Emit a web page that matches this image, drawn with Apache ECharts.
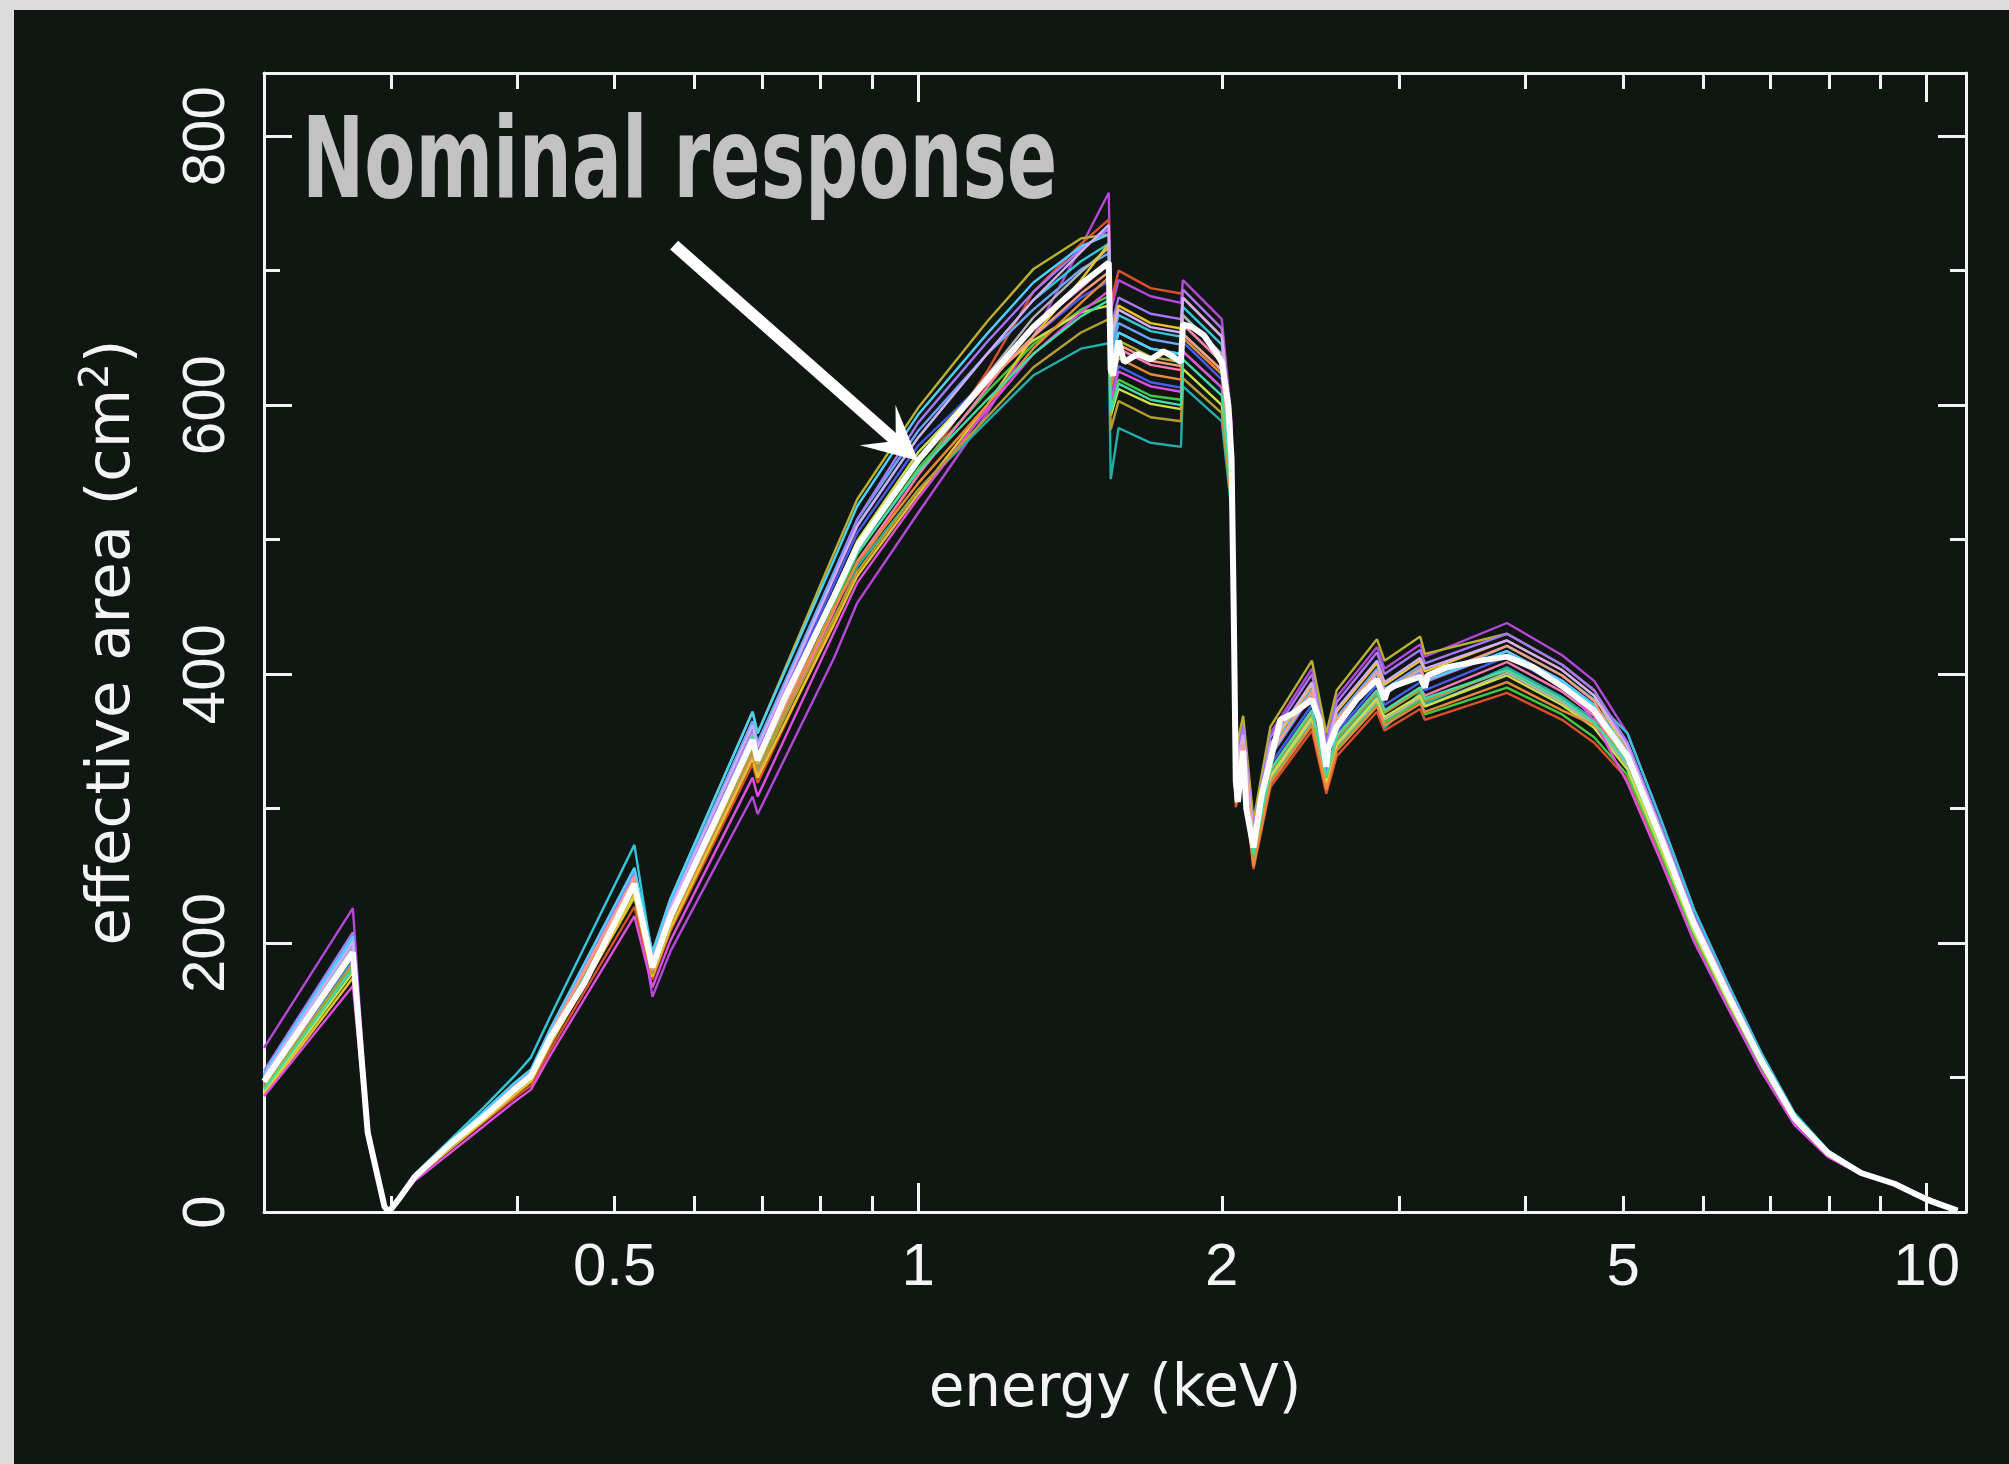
<!DOCTYPE html>
<html>
<head>
<meta charset="utf-8">
<script src="https://cdn.jsdelivr.net/npm/echarts@6/dist/echarts.min.js"></script>
<style>
html,body{margin:0;padding:0;background:#101713;}
#chart{width:2009px;height:1464px;}
</style>
</head>
<body>
<div id="chart"></div>
<script>
// ---- data (energy in keV, effective area in cm^2) ----
const nominalEnergy = [0.2245,0.275,0.2845,0.2956,0.2985,0.305,0.3166,0.344,0.371,0.3976,0.413,0.432,0.4665,0.523,0.545,0.568,0.632,0.685,0.693,0.736,0.825,0.87,1.0,1.17,1.30,1.45,1.545,1.552,1.56,1.58,1.60,1.65,1.70,1.75,1.79,1.822,1.83,1.87,1.92,1.97,2.00,2.03,2.045,2.055,2.065,2.075,2.09,2.10,2.115,2.15,2.19,2.235,2.286,2.356,2.457,2.50,2.539,2.55,2.60,2.72,2.85,2.90,2.92,2.96,3.146,3.18,3.20,3.34,3.61,3.835,4.07,4.35,4.68,5.05,5.45,5.88,6.35,6.85,7.39,7.98,8.61,9.29,10.02,10.73];
const nominalArea = [97,193,59,4,0,9,26,51,71,91,101,130,170,244,182,220,294,351,336,381,458,495,559,619,658,690,706,626,622,648,632,638,634,640,636,632,660,658,652,640,632,600,560,450,320,305,330,343,300,271,310,336,366,371,381,366,331,345,361,381,396,381,388,391,398,390,399,405,410,413,405,391,373,339,278,214,162,113,70,44,29,21,9,1];

const ensembleEnergy = [0.2245,0.275,0.2845,0.2956,0.2985,0.305,0.3166,0.371,0.3976,0.413,0.432,0.523,0.545,0.568,0.685,0.693,0.825,0.87,1.0,1.17,1.30,1.45,1.545,1.552,1.58,1.70,1.822,1.83,2.00,2.045,2.065,2.10,2.15,2.235,2.457,2.539,2.60,2.85,2.90,3.146,3.18,3.835,4.35,4.68,5.05,5.45,5.88,6.35,6.85,7.39,7.98,8.61,9.29,10.73];

const ensemble01 = [122,226,65,4,0,9,26,71,91,101,130,244,160,194,309,296,412,453,520,594,651,718,758,670,693,681,676,693,664,588,339,364,287,356,404,351,383,420,404,422,413,438,414,395,356,292,225,170,118,73,45,29,21,1];
const ensemble02 = [102,203,61,4,0,9,25,67,85,94,121,227,173,209,333,319,440,480,548,625,684,720,738,676,700,687,683,686,657,582,301,322,255,316,358,311,339,372,358,374,366,386,366,349,322,264,203,154,107,67,43,29,21,1];
const ensemble03 = [97,193,59,4,0,9,27,72,93,103,133,249,193,233,372,356,490,530,598,662,701,724,727,626,648,636,632,660,632,560,344,369,291,361,410,356,388,426,410,428,415,430,407,388,346,284,218,165,115,71,44,29,21,1];
const ensemble04 = [102,203,62,4,0,10,28,78,101,115,146,273,189,229,365,349,474,511,576,638,678,707,720,645,667,655,651,673,645,571,323,346,274,339,385,334,365,400,385,402,394,421,399,381,356,292,225,170,119,74,46,30,21,1];
const ensemble05 = [94,187,58,4,0,9,26,72,92,102,131,246,180,218,347,333,449,480,537,588,622,642,646,545,583,572,569,614,588,521,310,333,263,326,370,321,350,384,360,386,378,405,383,366,346,284,218,165,115,71,44,29,21,1];
const ensemble06 = [100,199,61,4,0,9,27,73,94,104,134,251,189,229,365,349,476,515,581,638,671,701,713,639,661,649,645,667,638,566,326,350,276,343,389,338,368,404,389,406,395,417,395,377,349,286,220,167,116,72,45,29,21,1];
const ensemble07 = [95,189,58,4,0,9,26,70,90,100,129,242,186,224,358,343,467,505,570,619,651,680,692,607,629,617,613,647,619,549,317,340,268,333,377,328,357,392,377,394,388,413,391,373,336,275,212,160,112,69,44,29,21,1];
const ensemble08 = [92,183,57,4,0,9,25,70,89,99,127,239,178,216,344,329,451,489,553,610,645,671,681,598,619,607,604,640,613,543,306,328,259,321,364,316,345,378,364,380,370,390,370,353,325,267,205,156,108,67,43,29,21,1];
const ensemble09 = [97,193,59,4,0,9,25,69,88,98,126,237,177,213,340,326,447,484,548,613,658,687,706,620,642,630,626,660,632,560,314,336,266,329,373,324,354,388,373,390,384,409,387,369,332,272,210,159,111,69,43,29,21,1];
const ensemble10 = [105,208,63,4,0,9,27,74,95,105,135,254,186,224,358,343,472,515,587,647,684,716,731,657,680,668,664,686,657,582,336,360,285,353,400,348,379,416,400,418,408,430,407,388,349,286,220,167,116,72,45,29,21,1];
const ensemble11 = [99,197,60,4,0,9,26,70,90,100,129,242,184,222,355,339,458,493,559,622,665,699,717,632,654,642,638,667,638,566,307,329,260,323,366,318,347,380,366,382,376,401,379,362,332,272,210,159,111,69,43,29,21,1];
const ensemble12 = [89,178,56,4,0,9,25,69,88,98,126,237,183,221,353,338,460,499,565,619,648,669,674,592,612,601,597,627,600,532,309,331,262,324,368,319,348,382,368,384,376,399,377,360,329,270,208,157,110,68,43,29,21,1];
const ensemble13 = [87,174,55,4,0,9,25,68,87,97,125,234,175,211,337,323,437,473,534,600,651,693,720,651,674,661,657,680,651,577,330,353,279,346,392,341,372,408,392,410,402,425,403,384,342,281,216,164,114,71,44,29,21,1];
const ensemble14 = [86,168,54,4,0,8,23,64,82,91,117,220,167,202,323,309,431,468,531,597,638,669,685,604,625,614,610,640,613,543,323,346,274,339,385,334,365,400,385,402,394,417,395,365,319,261,201,152,105,65,41,28,21,1];
const ensemble15 = [98,195,59,4,0,9,26,72,92,102,131,246,180,218,347,333,449,483,542,600,642,676,695,613,635,623,619,650,623,552,304,326,257,319,362,314,343,376,362,378,372,394,373,362,346,284,218,165,115,71,44,29,21,1];
const ensemble16 = [103,205,62,4,0,9,27,75,96,106,137,256,193,233,372,356,485,525,593,653,691,718,727,632,654,642,638,653,626,554,324,347,274,340,386,335,365,401,386,403,395,417,395,377,342,281,216,164,114,71,44,29,21,1];
const ensemble17 = [93,185,57,4,0,9,25,70,89,99,127,239,177,215,342,328,442,476,537,591,628,654,664,582,603,591,588,620,594,526,312,334,264,328,371,323,352,386,371,388,380,403,381,364,336,275,212,160,112,69,44,29,21,1];
const ensemble18 = [101,201,61,4,0,9,27,72,93,103,133,249,187,227,362,346,472,510,576,638,678,714,734,648,671,658,654,680,651,577,331,355,280,348,394,343,374,410,394,412,404,425,403,384,346,284,218,165,115,71,44,29,21,1];
const ensemble19 = [96,191,58,4,0,9,27,72,93,103,133,249,180,218,347,333,456,494,559,616,651,683,699,623,645,633,629,653,626,554,325,348,275,341,387,336,366,402,387,404,397,421,399,380,334,274,211,160,111,69,43,29,21,1];
const ensemble20 = [91,181,57,4,0,9,26,70,90,100,129,242,183,222,354,339,456,490,551,604,638,666,678,595,616,604,600,634,607,538,314,336,266,329,373,324,354,388,373,390,382,403,381,364,334,274,211,160,111,69,43,29,21,1];

const ensembleColors = ['#b448d8','#d8502c','#b8b030','#34c6d8','#22b0a6','#6aa8ff','#4a5cf0','#44c844','#ff7ab8','#a478ff','#b4b4b4','#cce048','#e6c42a','#e050e0','#e88a3a','#4cd2ff','#b49e34','#d6aaff','#ff9a84','#44dca4'];

const xRange = [0.2245, 10.94];
const xTickLabels = [0.5, 1, 2, 5, 10];
const xMajorTicks = [1, 10];
const xMinorTicks = [0.3, 0.4, 0.5, 0.6, 0.7, 0.8, 0.9, 2, 3, 4, 5, 6, 7, 8, 9];
const yRange = [0, 847];
const yTickLabels = [0, 200, 400, 600, 800];
const yMinorTicks = [100, 300, 500, 700];

const arrowTail = [0.5727, 719];
const arrowHead = [0.9545, 572];

// ---- build ----
const lg = v => Math.log10(v);
const ensembleValues = [ensemble01,ensemble02,ensemble03,ensemble04,ensemble05,ensemble06,ensemble07,ensemble08,ensemble09,ensemble10,ensemble11,ensemble12,ensemble13,ensemble14,ensemble15,ensemble16,ensemble17,ensemble18,ensemble19,ensemble20];

const WHITE = '#f4f4f4';
const xMin = lg(xRange[0]), xMax = lg(xRange[1]);

function xAxisDef(pos, ticks, len, withLine, withLabels) {
  return {
    type: 'value', position: pos, min: xMin, max: xMax,
    axisLine: { show: withLine, onZero: false, lineStyle: { color: WHITE, width: 3 } },
    axisTick: { show: true, inside: true, length: len, customValues: ticks.map(lg), lineStyle: { color: WHITE, width: 3 } },
    axisLabel: withLabels ? {
      show: true, customValues: xTickLabels.map(lg), margin: 26,
      color: WHITE, fontFamily: 'Liberation Sans', fontSize: 60,
      formatter: v => String(parseFloat(Math.pow(10, v).toPrecision(3)))
    } : { show: false },
    splitLine: { show: false }
  };
}
function yAxisDef(pos, ticks, len, withLine, withLabels) {
  return {
    type: 'value', position: pos, min: yRange[0], max: yRange[1],
    axisLine: { show: withLine, onZero: false, lineStyle: { color: WHITE, width: 3 } },
    axisTick: { show: true, inside: true, length: len, customValues: ticks, lineStyle: { color: WHITE, width: 3 } },
    axisLabel: withLabels ? {
      show: true, customValues: yTickLabels, rotate: 90, margin: 27,
      color: WHITE, fontFamily: 'Liberation Sans', fontSize: 60
    } : { show: false },
    splitLine: { show: false }
  };
}

const xAxes = [
  xAxisDef('bottom', xMajorTicks, 29, true, true),
  xAxisDef('bottom', xMinorTicks, 16, false, false),
  xAxisDef('top', xMajorTicks, 29, true, false),
  xAxisDef('top', xMinorTicks, 16, false, false)
];
Object.assign(xAxes[0], {
  name: 'energy (keV)', nameLocation: 'middle', nameGap: 150,
  nameTextStyle: { color: WHITE, fontFamily: 'DejaVu Sans', fontSize: 58 }
});
const yAxes = [
  yAxisDef('left', yTickLabels, 28, true, true),
  yAxisDef('left', yMinorTicks, 16, false, false),
  yAxisDef('right', yTickLabels, 28, true, false),
  yAxisDef('right', yMinorTicks, 16, false, false)
];
Object.assign(yAxes[0], {
  name: 'effective area (cm{sup|2})', nameLocation: 'middle', nameGap: 116, nameRotate: 90,
  nameTextStyle: {
    color: WHITE, fontFamily: 'DejaVu Sans', fontSize: 61,
    rich: { sup: { color: WHITE, fontFamily: 'DejaVu Sans', fontSize: 40, padding: [0, 0, 30, 0] } }
  }
});

const series = ensembleValues.map((vals, i) => ({
  type: 'line', xAxisIndex: 0, yAxisIndex: 0, showSymbol: false, silent: true, z: 2,
  lineStyle: { color: ensembleColors[i], width: 2.4 },
  data: ensembleEnergy.map((e, k) => [lg(e), vals[k]])
}));
series.push({
  type: 'line', name: 'nominal', xAxisIndex: 0, yAxisIndex: 0, showSymbol: false, silent: true, z: 5,
  lineStyle: { color: '#ffffff', width: 6 },
  data: nominalEnergy.map((e, k) => [lg(e), nominalArea[k]]),
  markLine: {
    silent: true, animation: false,
    symbol: ['none', 'path://M0,0 L1,1 L0,0.55 L-1,1 Z'],
    symbolSize: [54, 54],
    lineStyle: { color: '#ffffff', width: 12, type: 'solid' },
    label: { show: false }, emphasis: { disabled: true },
    data: [[ { coord: [lg(arrowTail[0]), arrowTail[1]] }, { coord: [lg(arrowHead[0]), arrowHead[1]] } ]]
  }
});

const chart = echarts.init(document.getElementById('chart'), null, { renderer: 'canvas', width: 2009, height: 1464 });
chart.setOption({
  backgroundColor: '#101713',
  animation: false,
  grid: { left: 264, right: 43, top: 73, bottom: 252, containLabel: false, outerBoundsMode: 'none' },
  xAxis: xAxes,
  yAxis: yAxes,
  series: series,
  graphic: [
    { type: 'rect', silent: true, z: -1, shape: { x: 0, y: 0, width: 2009, height: 10 }, style: { fill: '#dcdcdc' } },
    { type: 'rect', silent: true, z: -1, shape: { x: 0, y: 0, width: 14, height: 1464 }, style: { fill: '#dcdcdc' } },
    { type: 'text', silent: true, z: 20, x: 302, y: 168, scaleX: 0.665,
      style: { text: 'Nominal response', x: 0, y: 0, fill: '#c2c2c2', font: 'bold 112px "DejaVu Sans"', align: 'left', verticalAlign: 'middle' } }
  ]
});
</script>
</body>
</html>
